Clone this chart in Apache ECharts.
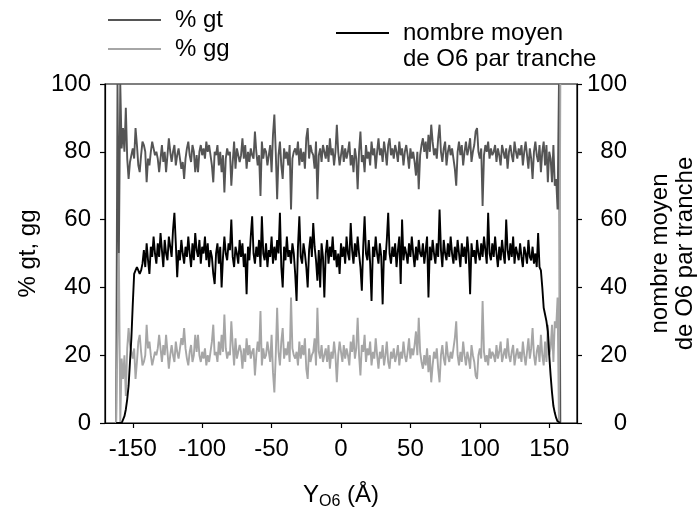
<!DOCTYPE html>
<html>
<head>
<meta charset="utf-8">
<script src="https://cdn.jsdelivr.net/npm/echarts@6/dist/echarts.min.js"></script>
<style>
  html, body { margin: 0; padding: 0; background: #fff; }
  #chart { width: 698px; height: 508px; }
</style>
</head>
<body>
<div id="chart"></div>
<script>
// Slice positions along Y (Å): one slice per Å, starting here
const sliceStart = -162;
const xTicks = [-150, -100, -50, 0, 50, 100, 150];

// % gt conformers per slice
const pctGt = [
  0, 100, 50, 100, 81, 87, 80, 93, 78, 72,
  77, 79, 81, 78, 87, 82, 76, 74, 79, 83,
  82, 80, 71, 78, 76, 80, 83, 81, 79, 80,
  78, 74, 78, 82, 77, 80, 74, 79, 84, 80,
  77, 80, 82, 76, 79, 81, 78, 75, 77, 72,
  78, 81, 83, 79, 77, 82, 80, 74, 79, 74,
  80, 82, 79, 81, 78, 83, 80, 82, 79, 76,
  71, 80, 79, 82, 76, 80, 74, 79, 68, 78,
  81, 79, 80, 70, 77, 83, 75, 81, 79, 77,
  79, 84, 78, 82, 75, 80, 77, 81, 79, 78,
  86, 80, 76, 79, 67, 83, 78, 81, 80, 76,
  79, 82, 74, 85, 91, 80, 66, 79, 83, 76,
  72, 81, 78, 80, 76, 82, 63, 78, 80, 81,
  79, 83, 76, 81, 77, 80, 75, 84, 87, 78,
  82, 80, 79, 75, 83, 66, 79, 81, 77, 82,
  80, 78, 82, 77, 84, 79, 81, 76, 80, 88,
  80, 76, 79, 82, 77, 81, 78, 80, 83, 76,
  79, 74, 81, 78, 69, 80, 86, 77, 79, 74,
  82, 78, 80, 76, 83, 79, 81, 75, 80, 84,
  79, 81, 77, 83, 80, 76, 82, 84, 79, 81,
  78, 82, 80, 77, 83, 79, 81, 76, 80, 82,
  79, 75, 81, 78, 80, 77, 73, 80, 69, 79,
  82, 84, 80, 83, 78, 85, 80, 88, 83, 79,
  81, 78, 84, 88, 80, 77, 81, 83, 76, 80,
  82, 79, 81, 78, 75, 70, 80, 83, 79, 82,
  76, 80, 83, 79, 81, 84, 77, 80, 82, 86,
  87, 80, 78, 81, 64, 79, 82, 80, 83, 78,
  81, 79, 80, 82, 77, 81, 79, 76, 82, 80,
  78, 81, 75, 80, 82, 79, 77, 83, 80, 78,
  81, 79, 82, 76, 80, 83, 79, 75, 81, 78,
  72, 80, 83, 79, 77, 82, 74, 80, 83, 76,
  82, 71, 80, 78, 71, 82, 70, 72, 63, 100,
  0
];

// % gg conformers per slice
const pctGg = [
  0, 0, 50, 0, 19, 13, 20, 8, 22, 28,
  23, 21, 19, 22, 13, 18, 24, 26, 21, 17,
  18, 20, 29, 22, 24, 20, 17, 19, 21, 20,
  22, 26, 22, 18, 23, 20, 26, 21, 16, 20,
  23, 20, 18, 24, 21, 19, 22, 25, 23, 28,
  22, 19, 17, 21, 23, 18, 20, 26, 21, 26,
  20, 18, 21, 19, 22, 17, 20, 18, 21, 24,
  29, 20, 21, 18, 24, 20, 26, 21, 32, 22,
  19, 21, 20, 30, 23, 17, 25, 19, 21, 23,
  21, 16, 22, 18, 25, 20, 23, 19, 21, 22,
  14, 20, 24, 21, 33, 17, 22, 19, 20, 24,
  21, 18, 26, 15, 9, 20, 34, 21, 17, 24,
  28, 19, 22, 20, 24, 18, 37, 22, 20, 19,
  21, 17, 24, 19, 23, 20, 25, 16, 13, 22,
  18, 20, 21, 25, 17, 34, 21, 19, 23, 18,
  20, 22, 18, 23, 16, 21, 19, 24, 20, 12,
  20, 24, 21, 18, 23, 19, 22, 20, 17, 24,
  21, 26, 19, 22, 31, 20, 14, 23, 21, 26,
  18, 22, 20, 24, 17, 21, 19, 25, 20, 16,
  21, 19, 23, 17, 20, 24, 18, 16, 21, 19,
  22, 18, 20, 23, 17, 21, 19, 24, 20, 18,
  21, 25, 19, 22, 20, 23, 27, 20, 31, 21,
  18, 16, 20, 17, 22, 15, 20, 12, 17, 21,
  19, 22, 16, 12, 20, 23, 19, 17, 24, 20,
  18, 21, 19, 22, 25, 30, 20, 17, 21, 18,
  24, 20, 17, 21, 19, 16, 23, 20, 18, 14,
  13, 20, 22, 19, 36, 21, 18, 20, 17, 22,
  19, 21, 20, 18, 23, 19, 21, 24, 18, 20,
  22, 19, 25, 20, 18, 21, 23, 17, 20, 22,
  19, 21, 18, 24, 20, 17, 21, 25, 19, 22,
  28, 20, 17, 21, 23, 18, 26, 20, 17, 24,
  18, 29, 20, 22, 29, 18, 30, 28, 37, 0,
  100
];

// mean number of O6 atoms per slice
const meanO6 = [
  0, 0, 0, 0, 0, 1, 2, 4, 7, 11,
  18, 25, 35, 44, 45, 46, 45, 44, 45, 47,
  51, 46, 53, 48, 44, 52, 49, 55, 50, 47,
  53, 49, 56, 51, 46, 54, 50, 48, 55, 52,
  49, 57, 62, 53, 43, 51, 48, 54, 50, 47,
  52, 49, 55, 50, 46, 53, 48, 56, 51, 49,
  54, 47, 52, 50, 55, 48, 53, 46, 51, 49,
  44, 41, 50, 53, 47, 52, 40, 49, 55, 50,
  48, 53, 51, 60, 49, 46, 52, 50, 47, 54,
  49, 53, 46, 50, 38, 52, 48, 55, 61, 50,
  47, 52, 49, 54, 46, 61, 50, 48, 53, 46,
  51, 49, 55, 47, 52, 48, 54, 50, 62, 46,
  40, 52, 48, 55, 49, 51, 47, 53, 50, 44,
  36, 52, 61, 49, 47, 53, 50, 46, 40, 51,
  55, 49, 59, 52, 48, 42, 51, 40, 53, 49,
  37, 50, 54, 47, 52, 49, 55, 48, 51, 46,
  50, 44, 53, 49, 52, 47, 55, 50, 48, 59,
  51, 47, 53, 49, 55, 50, 46, 39, 52, 61,
  50, 48, 54, 47, 36, 52, 49, 55, 50, 47,
  53, 49, 35, 51, 48, 54, 62, 50, 47, 52,
  49, 53, 46, 51, 55, 41, 60, 48, 52, 50,
  47, 53, 49, 55, 50, 46, 52, 48, 54, 50,
  49, 53, 47, 51, 55, 37, 52, 48, 54, 50,
  47, 53, 49, 63, 51, 46, 54, 50, 48, 53,
  49, 55, 50, 47, 52, 48, 54, 50, 46, 53,
  49, 52, 47, 55, 50, 38, 53, 49, 51, 47,
  54, 50, 48, 53, 49, 55, 51, 47, 62, 50,
  48, 53, 49, 55, 50, 46, 52, 48, 54, 50,
  47, 60, 51, 48, 53, 49, 55, 47, 52, 50,
  48, 53, 49, 46, 52, 50, 47, 54, 49, 48,
  52, 47, 50, 46, 56, 46, 45, 40, 34, 32,
  30, 27, 20, 14, 9, 5, 3, 1.5, 0.5, 0,
  0
];

const FONT = '"Liberation Sans", Arial, Helvetica, sans-serif';
const FS = 24;
const colGt = '#555555';
const colGg = '#a6a6a6';
const colN = '#000000';

function pairs(values) {
  return values.map((v, i) => [sliceStart + i, v]);
}

const chart = echarts.init(document.getElementById('chart'), null, { renderer: 'canvas' });

const axisLineStyle = { color: '#000', width: 1.2 };
const labelStyle = { fontSize: FS, color: '#000', fontFamily: FONT };

// legend keys are plain line strokes, text set a little apart from them
const keyWidth = 53;
const legendBase = {
  orient: 'horizontal',
  padding: 0,
  icon: 'rect',
  itemWidth: keyWidth,
  itemHeight: 2,
  selectedMode: false,
  textStyle: { fontSize: FS, color: '#000', fontFamily: FONT, padding: [0, 0, 0, 9] }
};
const legend3Left = 336;

chart.setOption({
  animation: false,
  backgroundColor: '#fff',
  grid: {
    left: 105, right: 121, top: 84, bottom: 85,
    outerBoundsMode: 'none',
    containLabel: false,
    show: true, borderColor: '#000', borderWidth: 1.2, backgroundColor: 'transparent'
  },
  legend: [
    Object.assign({}, legendBase, { data: ['% gt'], left: 108, top: 8 }),
    Object.assign({}, legendBase, { data: ['% gg'], left: 108, top: 37 }),
    Object.assign({}, legendBase, { data: ['nombre moyen'], left: legend3Left, top: 21 })
  ],
  graphic: [{
    type: 'text',
    left: legend3Left + keyWidth + 5 + 9,
    top: 47,
    style: { text: 'de O6 par tranche', fontSize: FS, fill: '#000', fontFamily: FONT }
  }],
  xAxis: {
    type: 'value',
    min: -170, max: 170,
    axisLine: { show: true, onZero: false, lineStyle: axisLineStyle },
    axisTick: { show: true, inside: false, length: 5, customValues: xTicks, lineStyle: axisLineStyle },
    axisLabel: Object.assign({ customValues: xTicks, margin: 14 }, labelStyle),
    splitLine: { show: false },
    name: '{m|Y}{s|O6}{m| (Å)}',
    nameLocation: 'middle',
    nameGap: 57,
    nameTextStyle: {
      rich: {
        m: { fontSize: FS, fontFamily: FONT, color: '#000', lineHeight: 30 },
        s: { fontSize: 16, fontFamily: FONT, color: '#000', lineHeight: 16, padding: [12, 0, 0, 0], verticalAlign: 'bottom' }
      }
    }
  },
  yAxis: [
    {
      type: 'value', position: 'left',
      min: 0, max: 100, interval: 20,
      axisLine: { show: true, onZero: false, lineStyle: axisLineStyle },
      axisTick: { show: true, inside: false, length: 5, lineStyle: axisLineStyle },
      axisLabel: Object.assign({ margin: 14 }, labelStyle),
      splitLine: { show: false },
      name: '% gt, gg',
      nameLocation: 'middle',
      nameGap: 62,
      nameTextStyle: { fontSize: FS, color: '#000', fontFamily: FONT }
    },
    {
      type: 'value', position: 'right',
      min: 0, max: 100, interval: 20,
      axisLine: { show: true, onZero: false, lineStyle: axisLineStyle },
      axisTick: { show: true, inside: false, length: 5, lineStyle: axisLineStyle },
      axisLabel: Object.assign({ margin: 50, align: 'right' }, labelStyle),
      splitLine: { show: false },
      name: 'nombre moyen\nde O6 par tranche',
      nameLocation: 'middle',
      nameGap: 71,
      nameRotate: 90,
      nameTextStyle: { fontSize: FS, color: '#000', fontFamily: FONT, lineHeight: 25 }
    }
  ],
  series: [
    {
      name: '% gt', type: 'line', yAxisIndex: 0,
      data: pairs(pctGt), symbol: 'none', clip: true,
      lineStyle: { color: colGt, width: 1.9 }, itemStyle: { color: colGt }, z: 2
    },
    {
      name: '% gg', type: 'line', yAxisIndex: 0,
      data: pairs(pctGg), symbol: 'none', clip: true,
      lineStyle: { color: colGg, width: 1.9 }, itemStyle: { color: colGg }, z: 3
    },
    {
      name: 'nombre moyen', type: 'line', yAxisIndex: 1,
      data: pairs(meanO6), symbol: 'none', clip: true,
      lineStyle: { color: colN, width: 1.9 }, itemStyle: { color: colN }, z: 4
    }
  ]
});
</script>
</body>
</html>
